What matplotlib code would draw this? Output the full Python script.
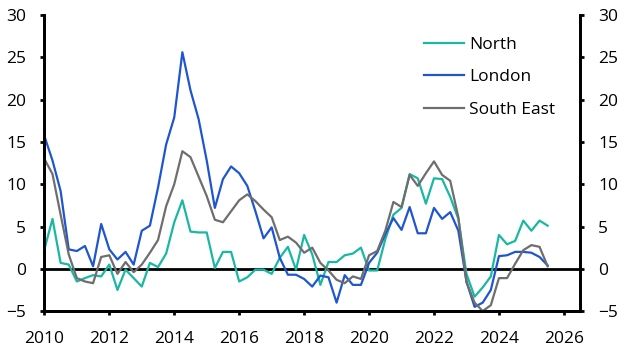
import numpy as np
from matplotlib import pyplot as plt

plt.rcParams['font.family'] = ['Open Sans', 'DejaVu Sans']

# quarterly, 2010 Q1 .. 2025 Q3
start_year = 2010
north = [2.3, 5.9, 0.7, 0.5, -1.5, -1.1, -0.75, -0.9, 0.5, -2.5,
         -0.1, -1.1, -2.1, 0.7, 0.2, 1.8, 5.5, 8.1, 4.4, 4.3,
         4.3, 0.1, 2.0, 2.0, -1.5, -1.0, -0.1, -0.1, -0.6, 1.3,
         2.6, -0.1, 4.0, 1.7, -1.9, 0.8, 0.8, 1.6, 1.8, 2.5,
         -0.2, -0.2, 3.5, 6.4, 7.2, 11.2, 10.7, 7.7, 10.7, 10.6,
         8.5, 5.9, -0.6, -3.3, -2.2, -0.9, 4.0, 2.9, 3.3, 5.7,
         4.5, 5.7, 5.1]
london = [15.7, 12.8, 9.2, 2.3, 2.1, 2.7, 0.3, 5.3, 2.3, 1.1,
          2.0, 0.5, 4.5, 5.1, 9.6, 14.7, 17.9, 25.6, 21.1, 17.7,
          12.8, 7.2, 10.6, 12.1, 11.3, 9.8, 6.8, 3.6, 4.9, 1.3,
          -0.7, -0.7, -1.2, -2.1, -0.8, -1.0, -4.0, -0.75, -1.9, -1.9,
          0.7, 1.9, 4.1, 6.0, 4.6, 7.3, 4.2, 4.2, 7.2, 5.9,
          6.7, 4.5, -1.5, -4.5, -4.0, -2.5, 1.5, 1.6, 2.0, 2.0,
          1.9, 1.4, 0.4]
south_east = [13.0, 11.2, 6.4, 1.7, -1.1, -1.5, -1.7, 1.4, 1.6, -0.6,
              0.8, -0.4, 0.5, 1.9, 3.4, 7.4, 10.0, 13.9, 13.2, 10.9,
              8.6, 5.8, 5.5, 6.8, 8.1, 8.8, 8.0, 7.0, 6.1, 3.4,
              3.8, 3.1, 1.9, 2.5, 0.7, -0.2, -1.3, -1.7, -0.9, -1.2,
              1.6, 2.1, 4.5, 7.9, 7.3, 11.1, 9.8, 11.3, 12.7, 11.1,
              10.4, 6.1, -1.6, -4.0, -5.0, -4.3, -1.1, -1.1, 0.6, 2.2,
              2.8, 2.6, 0.3]
labels = ["North", "London", "South East"]
colors = ["#19b8a3", "#1f56cf", "#6e6e6e"]

t = start_year + np.arange(len(north)) / 4

fig = plt.figure(figsize=(6.34, 3.58), dpi=100)
ax = fig.add_axes([0.070, 0.131, 0.845, 0.827])

for ys, lab, c in zip([north, london, south_east], labels, colors):
	ax.plot(t, ys, color=c, lw=1.6, label=lab, clip_on=False, zorder=3)

ax.axhline(0, color='black', lw=2.0, zorder=2)
ax.set_xlim(2010, 2026.5)
ax.set_ylim(-5, 30)
ax.set_xticks(range(2010, 2027, 2))
ax.set_yticks(range(-5, 31, 5))

ax2 = ax.twinx()
ax2.set_ylim(-5, 30)
ax2.set_yticks(range(-5, 31, 5))

for a in (ax, ax2):
	a.spines['top'].set_visible(False)
	for s in ('left', 'right', 'bottom'):
		a.spines[s].set_linewidth(2.0)
	a.tick_params(width=2.0, length=3, labelsize=12.5, pad=10)
ax.tick_params(axis='x', pad=11)

ax.legend(loc='upper left', bbox_to_anchor=(0.68, 0.98), frameon=False,
          fontsize=12.5, handlelength=2.3, handletextpad=0.3, labelspacing=0.95)

fig.savefig("out.png", dpi=100)
